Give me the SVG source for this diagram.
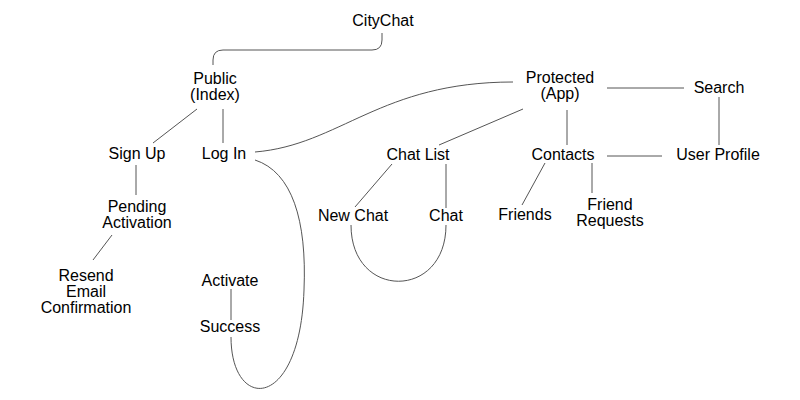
<svg xmlns="http://www.w3.org/2000/svg" width="800" height="400" viewBox="0 0 800 400">
<style>
text{font-family:"Liberation Sans",Arial,sans-serif;font-size:16px;fill:#000;text-anchor:middle}
.c path,.c line{fill:none;stroke:#555;stroke-width:1}
</style>
<rect width="800" height="400" fill="#fff"/>
<g class="c">
<path d="M382,33 V40 Q382,50 372,50 H223 Q213,50 213,60 V65"/>
<line x1="197" y1="109" x2="153" y2="143"/>
<line x1="223" y1="109" x2="223" y2="143"/>
<line x1="136" y1="165" x2="136" y2="195"/>
<line x1="112" y1="235" x2="93" y2="260"/>
<line x1="231" y1="289" x2="231" y2="320"/>
<path d="M231,337 C231,412 300,412 304,290 C307,220 292,172 255,160"/>
<path d="M255,152 C340,145 380,82 513,82"/>
<line x1="523" y1="109" x2="439" y2="145"/>
<line x1="607" y1="88" x2="684" y2="88"/>
<line x1="719" y1="97" x2="719" y2="145"/>
<line x1="567" y1="110" x2="567" y2="145"/>
<line x1="607" y1="156" x2="662" y2="156"/>
<line x1="545" y1="163" x2="522" y2="205"/>
<line x1="592" y1="163" x2="592" y2="193"/>
<line x1="392" y1="164" x2="355" y2="207"/>
<line x1="446" y1="164" x2="446" y2="208"/>
<path d="M351,225 C351,300 446,300 446,225"/>
</g>
<g id="citychat"><text x="383" y="26">CityChat</text></g>
<g id="public"><text x="215" y="84">Public</text><text x="215" y="100">(Index)</text></g>
<g id="signup"><text x="137" y="159">Sign Up</text></g>
<g id="login"><text x="224" y="159">Log In</text></g>
<g id="pending"><text x="137" y="212">Pending</text><text x="137" y="228">Activation</text></g>
<g id="resend"><text x="86" y="281">Resend</text><text x="86" y="297">Email</text><text x="86" y="313">Confirmation</text></g>
<g id="activate"><text x="230" y="286">Activate</text></g>
<g id="success"><text x="230" y="332">Success</text></g>
<g id="protected"><text x="560" y="83">Protected</text><text x="560" y="99">(App)</text></g>
<g id="search"><text x="719" y="93">Search</text></g>
<g id="userprofile"><text x="718" y="160">User Profile</text></g>
<g id="contacts"><text x="563" y="160">Contacts</text></g>
<g id="chatlist"><text x="418" y="160">Chat List</text></g>
<g id="newchat"><text x="353" y="221">New Chat</text></g>
<g id="chat"><text x="446" y="221">Chat</text></g>
<g id="friends"><text x="525" y="220">Friends</text></g>
<g id="friendrequests"><text x="610" y="210">Friend</text><text x="610" y="226">Requests</text></g>
</svg>
